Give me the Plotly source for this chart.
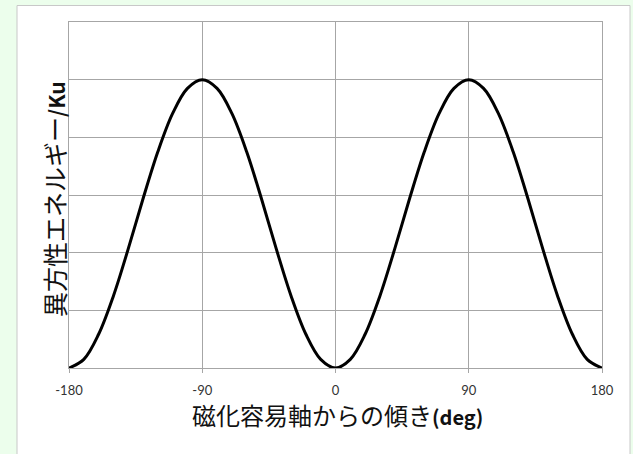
import plotly.graph_objects as go

# Angle from easy axis (deg) and normalized anisotropy energy E/Ku
angle_deg = [-180, -170, -160, -150, -140, -130, -120, -110, -100, -90,
             -80, -70, -60, -50, -40, -30, -20, -10, 0,
             10, 20, 30, 40, 50, 60, 70, 80, 90,
             100, 110, 120, 130, 140, 150, 160, 170, 180]
energy = [0.0, 0.03, 0.117, 0.25, 0.413, 0.587, 0.75, 0.883, 0.97, 1.0,
          0.97, 0.883, 0.75, 0.587, 0.413, 0.25, 0.117, 0.03, 0.0,
          0.03, 0.117, 0.25, 0.413, 0.587, 0.75, 0.883, 0.97, 1.0,
          0.97, 0.883, 0.75, 0.587, 0.413, 0.25, 0.117, 0.03, 0.0]
x_ticks = [-180, -90, 0, 90, 180]
x_tick_labels = ["-180", "-90", "0", "90", "180"]
y_grid = [0, 0.2, 0.4, 0.6, 0.8, 1.0, 1.2]

W, H = 633, 454
L, R, T, B = 69, 31, 22, 86
pw, ph = W - L - R, H - T - B

def px(xp):
    return (xp - L) / pw

def py(yp):
    return (H - B - yp) / ph

fig = go.Figure()
fig.add_trace(go.Scatter(x=angle_deg, y=energy, mode="lines",
                         line=dict(color="black", width=3, shape="spline", smoothing=1.0),
                         hoverinfo="skip", showlegend=False))

fig.add_shape(type="rect", xref="paper", yref="paper",
              x0=px(17), x1=px(630), y0=py(470), y1=py(5.5),
              fillcolor="white", line=dict(color="#c8c8c8", width=1), layer="below")

fig.add_annotation(x=px(337), y=py(414), xref="paper", yref="paper",
                   text="磁化容易軸からの傾き<span style='font-size:20px'><b>(deg)</b></span>",
                   showarrow=False,
                   font=dict(family="Noto Sans CJK JP", size=24, color="#111111"),
                   xanchor="center", yanchor="middle")
fig.add_annotation(x=px(54), y=py(199), xref="paper", yref="paper",
                   text="異方性エネルギー<span style='font-size:21px'><b>/Ku</b></span>",
                   showarrow=False, textangle=-90,
                   font=dict(family="Noto Sans CJK JP", size=25, color="#111111"),
                   xanchor="center", yanchor="middle")

fig.update_layout(
    width=W, height=H,
    margin=dict(l=L, r=R, t=T, b=B),
    paper_bgcolor="#ecfeec",
    plot_bgcolor="white",
    xaxis=dict(range=[-180, 180], tickvals=x_ticks, ticktext=x_tick_labels,
               showgrid=True, gridcolor="#a6a6a6", gridwidth=1,
               showline=True, linecolor="#a6a6a6", linewidth=1, mirror=True,
               ticks="outside", ticklen=4, tickcolor="#a6a6a6",
               ticklabelstandoff=6,
               tickfont=dict(family="Lato", size=13, color="#333333"),
               zeroline=False, fixedrange=True),
    yaxis=dict(range=[0, 1.2], tickvals=y_grid, showticklabels=False,
               showgrid=True, gridcolor="#a6a6a6", gridwidth=1,
               showline=True, linecolor="#a6a6a6", linewidth=1, mirror=True,
               zeroline=False, fixedrange=True),
)

fig.write_html("out.html", config={"displayModeBar": False},
               post_script="document.body.style.margin='0px';"
                           "document.body.style.background='#ecfeec';")
